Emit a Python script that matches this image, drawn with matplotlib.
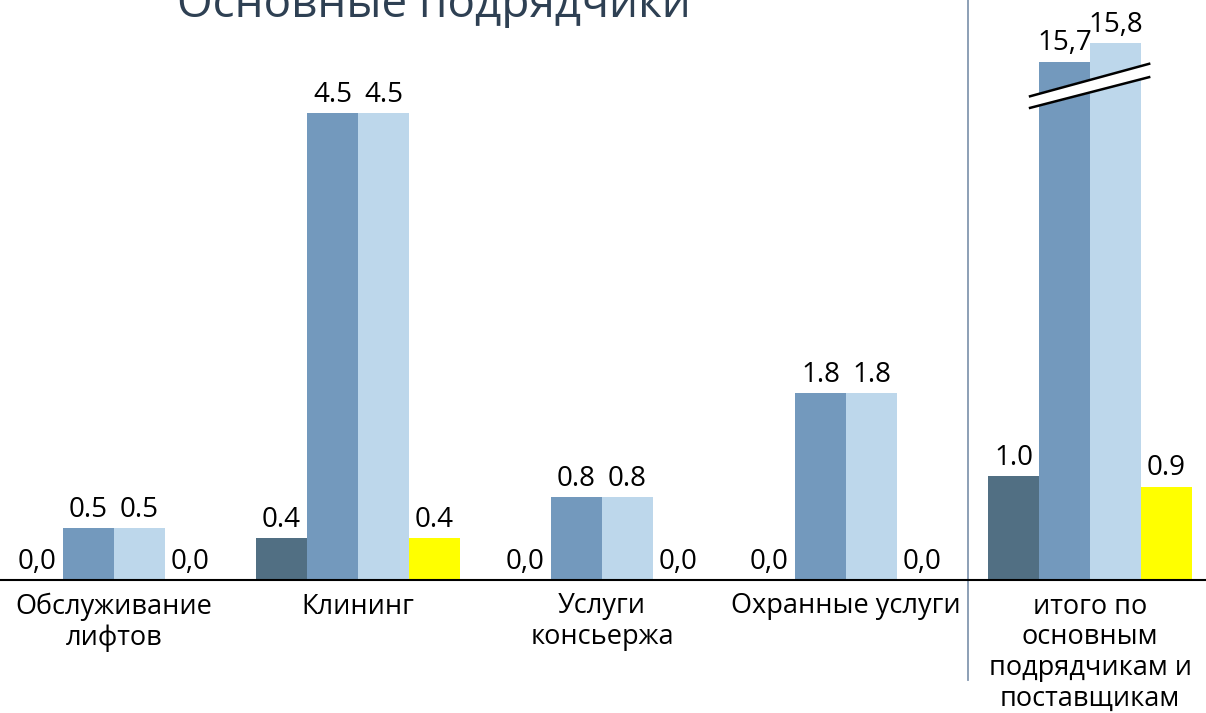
import numpy as np
import matplotlib.pyplot as plt
from matplotlib import transforms

plt.rcParams['font.family'] = ['Open Sans', 'DejaVu Sans']

# categories and values
categories = ['Обслуживание\nлифтов', 'Клининг', 'Услуги\nконсьержа',
              'Охранные услуги', 'итого по\nосновным\nподрядчикам и\nпоставщикам']
s1 = [0.0, 0.4, 0.0, 0.0, 1.0]
s2 = [0.5, 4.5, 0.8, 1.8, 15.7]
s3 = [0.5, 4.5, 0.8, 1.8, 15.8]
s4 = [0.0, 0.4, 0.0, 0.0, 0.9]
l1 = ['0,0', '0.4', '0,0', '0,0', '1.0']
l2 = ['0.5', '4.5', '0.8', '1.8', '15,7']
l3 = ['0.5', '4.5', '0.8', '1.8', '15,8']
l4 = ['0,0', '0.4', '0,0', '0,0', '0.9']

colors = ['#516F83', '#7399BD', '#BDD7EB', '#FFFF00']

# broken y axis: compress the range between A and B
A, B, K, S = 4.6, 15.6, 0.02, 1.75
UB = A + (B - A) * K


def fwd(v):
    v = np.asarray(v, dtype=float)
    return np.where(v <= A, v, np.where(v <= B, A + (v - A) * K, UB + (v - B) * S))


def inv(u):
    u = np.asarray(u, dtype=float)
    return np.where(u <= A, u, np.where(u <= UB, A + (u - A) / K, B + (u - UB) / S))


fig = plt.figure(figsize=(12.06, 7.13), dpi=100)
ax = fig.add_axes([0, 133 / 713, 1, 580 / 713])
ax.set_yscale('function', functions=(fwd, inv))

x = np.arange(len(categories))
w = 0.209
series = [s1, s2, s3, s4]
labels = [l1, l2, l3, l4]
for i, (vals, labs) in enumerate(zip(series, labels)):
    xs = x + (i - 1.5) * w
    ax.bar(xs, vals, width=w, color=colors[i], zorder=2)
    for xi, v, lab in zip(xs, vals, labs):
        ax.annotate(lab, (xi, v), xytext=(0, 8), textcoords='offset points',
                    ha='center', va='baseline', fontsize=20, color='black')

for xi, cat in zip(x, categories):
    ax.annotate(cat, xy=(xi, 0), xycoords=('data', 'axes fraction'),
                xytext=(0, -9), textcoords='offset points',
                ha='center', va='top', fontsize=19.5, linespacing=1.14)

ax.set_xlim(-0.467, 4.475)
ax.set_ylim(0, float(inv(580 / 103.8)))
for sp in ['top', 'left', 'right']:
    ax.spines[sp].set_visible(False)
ax.spines['bottom'].set_linewidth(1.5)
ax.set_xticks([])
ax.set_yticks([])

# separator before the total group
ax.axvline(3.5, ymin=-100 / 580, ymax=1, color='#8497B0', lw=1.3, clip_on=False)

# break marks on the total group
tr = transforms.blended_transform_factory(ax.transData, ax.transAxes)
bx = [x[-1] - 0.246, x[-1] + 0.242]
up = [0.834, 0.890]
lo = [0.814, 0.867]
ax.fill([bx[0], bx[1], bx[1], bx[0]], [lo[0], lo[1], up[1], up[0]],
        color='white', transform=tr, zorder=3)
ax.plot(bx, up, color='black', lw=1.8, transform=tr, zorder=4)
ax.plot(bx, lo, color='black', lw=1.8, transform=tr, zorder=4)

fig.text(0.36, 1 - 17 / 713, 'Основные подрядчики', ha='center', va='baseline',
         fontsize=33, color='#2E4053')

fig.savefig('out.png', dpi=100)
